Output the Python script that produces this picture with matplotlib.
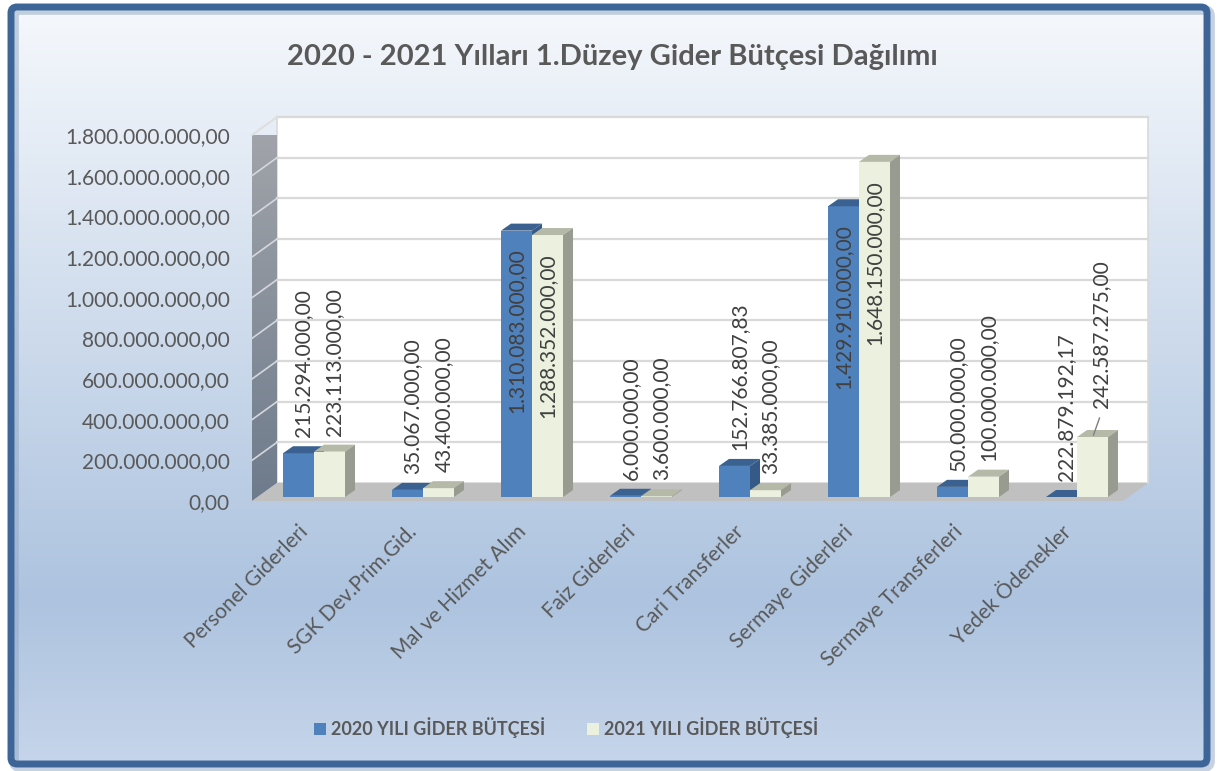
import numpy as np
import matplotlib
matplotlib.use("Agg")
import matplotlib.pyplot as plt
from matplotlib.patches import Polygon, FancyBboxPatch, Patch
from matplotlib.colors import LinearSegmentedColormap
from matplotlib.transforms import ScaledTranslation

plt.rcParams['font.family'] = ['Lato', 'DejaVu Sans']

# data
kategoriler = ['Personel Giderleri', 'SGK Dev.Prim.Gid.', 'Mal ve Hizmet Alım', 'Faiz Giderleri',
               'Cari Transferler', 'Sermaye Giderleri', 'Sermaye Transferleri', 'Yedek Ödenekler']
gider_2020 = [215.294e6, 35.067e6, 1310.083e6, 6.0e6, 152.767e6, 1429.910e6, 50.0e6, 0.0]
gider_2021 = [223.113e6, 43.4e6, 1288.352e6, 3.6e6, 33.385e6, 1648.150e6, 100.0e6, 295.0e6]
etiket_2020 = ['215.294.000,00', '35.067.000,00', '1.310.083.000,00', '6.000.000,00',
               '152.766.807,83', '1.429.910.000,00', '50.000.000,00', '222.879.192,17']
etiket_2021 = ['223.113.000,00', '43.400.000,00', '1.288.352.000,00', '3.600.000,00',
               '33.385.000,00', '1.648.150.000,00', '100.000.000,00', '242.587.275,00']
seri_adlari = ['2020 YILI GİDER BÜTÇESİ', '2021 YILI GİDER BÜTÇESİ']
yticks = np.arange(0, 1.8e9 + 1, 2e8)

# label placement: 'out' above bar, 'in' inside top, 'up' lifted with leader line
yer_2020 = ['out', 'out', 'in', 'out', 'out', 'in', 'out', 'out']
yer_2021 = ['out', 'out', 'in', 'out', 'out', 'in', 'out', 'up']

W, H = 1217, 771
fig = plt.figure(figsize=(W / 100, H / 100), dpi=100)
fig.patch.set_facecolor('white')

# background + frame
bg = fig.add_axes([0, 0, 1, 1], zorder=-10)
bg.set_axis_off()
grad = LinearSegmentedColormap.from_list('bg', [(0, '#f5f8fc'), (0.78, '#adc3df'), (1.0, '#c6d5ea')])
bg.imshow(np.linspace(0, 1, 256)[:, None], cmap=grad, aspect='auto', extent=[12, 1209, 766, 8], zorder=0)
bg.add_patch(FancyBboxPatch((14, 10), 1196, 757, boxstyle='round,pad=0,rounding_size=6',
                            fc='none', ec='#8fa6c4', lw=7, alpha=0.5, zorder=1))
bg.add_patch(FancyBboxPatch((11, 7), 1196, 757, boxstyle='round,pad=0,rounding_size=6',
                            fc='none', ec='#3d6597', lw=5, zorder=2))
bg.set_xlim(0, W); bg.set_ylim(H, 0)

# main axes = front plane of the 3D box
x0, x1 = -0.569, 7.422
ax = fig.add_axes([252 / W, (H - 501) / H, 871 / W, 366 / H])
ax.patch.set_visible(False)
for s in ax.spines.values():
    s.set_visible(False)
px_x = (x1 - x0) / 871
px_y = 1.8e9 / 366

dxw, dyw = 25 * px_x, 18 * px_y    # wall depth
dxb, dyb = 10 * px_x, 7 * px_y     # bar depth
yb = 4 * px_y                      # bars sit a bit behind the front edge
bw = 31 * px_x
ytop = 1.8e9

# back wall
ax.add_patch(Polygon([(x0 + dxw, dyw), (x1 + dxw, dyw), (x1 + dxw, ytop + dyw), (x0 + dxw, ytop + dyw)],
                     closed=True, fc='white', ec='#d9d9d9', lw=1.2, zorder=1, clip_on=False))
# side wall with gradient
side = Polygon([(x0, 0), (x0 + dxw, dyw), (x0 + dxw, ytop + dyw), (x0, ytop)], closed=True,
               fc='none', ec='none', transform=ax.transData)
wall_cm = LinearSegmentedColormap.from_list('wall', ['#6e7b8c', '#a3a6ab'])
im = ax.imshow(np.linspace(0, 1, 256)[:, None], cmap=wall_cm, aspect='auto', origin='lower',
               extent=[x0, x0 + dxw, 0, ytop + dyw], zorder=1)
im.set_clip_path(side)
ax.set_xlim(x0, x1); ax.set_ylim(0, 1.8e9)
for v in yticks[1:]:
    ax.plot([x0 + dxw, x1 + dxw], [v + dyw, v + dyw], color='#d9d9d9', lw=1.6, zorder=2, clip_on=False)
    ax.plot([x0, x0 + dxw], [v, v + dyw], color='#d4d7db', lw=1.2, zorder=2, clip_on=False)
ax.plot([x0, x0 + dxw], [ytop, ytop + dyw], color='#e0e0e0', lw=1.2, zorder=2, clip_on=False)
# floor
ax.add_patch(Polygon([(x0, 0), (x1, 0), (x1 + dxw, dyw), (x0 + dxw, dyw)], closed=True,
                     fc='#c0c0c0', ec='none', zorder=2, clip_on=False))


def bar3d(xl, h, front, top, side_c):
    ax.add_patch(Polygon([(xl, yb), (xl + bw, yb), (xl + bw, yb + h), (xl, yb + h)],
                         closed=True, fc=front, ec='none', zorder=3, clip_on=False))
    ax.add_patch(Polygon([(xl, yb + h), (xl + bw, yb + h), (xl + bw + dxb, yb + h + dyb), (xl + dxb, yb + h + dyb)],
                         closed=True, fc=top, ec='none', zorder=3, clip_on=False))
    ax.add_patch(Polygon([(xl + bw, yb), (xl + bw + dxb, yb + dyb), (xl + bw + dxb, yb + h + dyb), (xl + bw, yb + h)],
                         closed=True, fc=side_c, ec='none', zorder=3, clip_on=False))


def bar_label(xc, h, txt, mode):
    kw = dict(rotation=90, ha='center', fontsize=15, color='#404040', zorder=5, clip_on=False)
    if mode == 'out':
        ax.text(xc + dxb / 2, yb + h + dyb + 9 * px_y, txt, va='bottom', **kw)
    elif mode == 'in':
        ax.text(xc, yb + h - 18 * px_y, txt, va='top', **kw)
    else:
        ax.plot([xc + 1 * px_x, xc + 7 * px_x], [yb + h + 2 * px_y, yb + h + 19 * px_y],
                color='#7f7f7f', lw=1, zorder=5, clip_on=False)
        ax.text(xc + 9 * px_x, yb + h + 29 * px_y, txt, va='bottom', **kw)


for i in range(len(kategoriler)):
    bar3d(i - bw, gider_2020[i], '#4f81bd', '#3a6190', '#355a87')
    bar3d(i, gider_2021[i], '#ebf1de', '#b5b9a8', '#989b8f')
    bar_label(i - bw / 2, gider_2020[i], etiket_2020[i], yer_2020[i])
    bar_label(i + bw / 2, gider_2021[i], etiket_2021[i], yer_2021[i])


def tr_fmt(v):
    return f'{v:,.2f}'.replace(',', 'X').replace('.', ',').replace('X', '.')


ax.set_yticks(yticks)
ax.set_yticklabels([tr_fmt(v) for v in yticks])
ax.tick_params(axis='y', length=0, pad=16, labelsize=15, labelcolor='#595959')
ax.set_xticks(np.arange(len(kategoriler)))
ax.set_xticklabels(kategoriler, rotation=45, ha='right', va='top', rotation_mode='anchor')
ax.tick_params(axis='x', length=0, pad=15, labelsize=15, labelcolor='#595959')
shift = ScaledTranslation(-0.16, 0, fig.dpi_scale_trans)
for lbl in ax.get_xticklabels():
    lbl.set_transform(lbl.get_transform() + shift)

fig.text(612 / W, 1 - 57 / H, '2020 - 2021 Yılları 1.Düzey Gider Bütçesi Dağılımı', ha='center', va='center',
         fontsize=21, fontweight='bold', color='#595959')

handles = [Patch(fc='#4f81bd', ec='none'), Patch(fc='#ebf1de', ec='none')]
fig.legend(handles, seri_adlari, loc='center', bbox_to_anchor=(566 / W, 1 - 728 / H), ncol=2, frameon=False,
           prop={'size': 13, 'weight': 'bold'}, labelcolor='#595959', handlelength=0.65, handleheight=0.65,
           handletextpad=0.3, columnspacing=2.3)

fig.savefig('out.png', dpi=100)
